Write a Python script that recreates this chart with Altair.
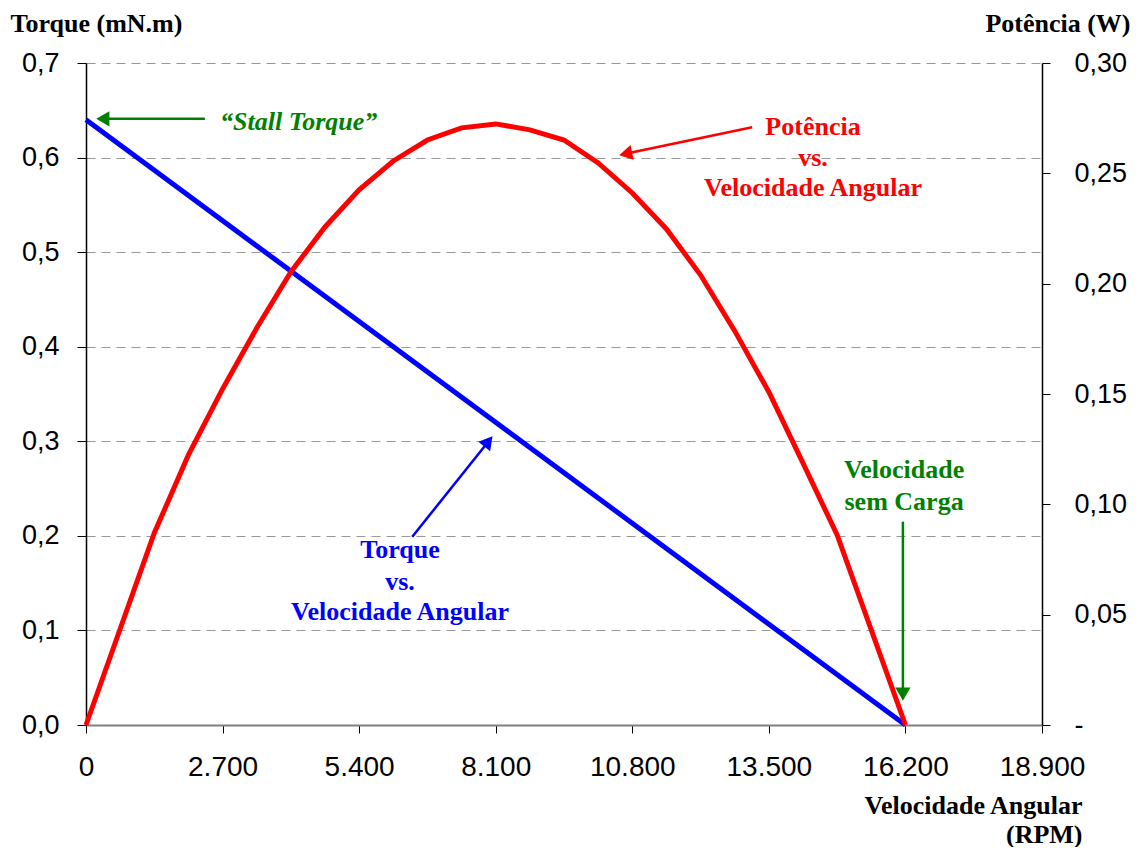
import altair as alt
import pandas as pd

# ---- data ----
torque_rpm = [0, 16200]
torque_val = [0.64, 0.0]

power_rpm = [0, 1350, 2025, 2700, 3375, 4050, 4725, 5400, 6075, 6750, 7425, 8100,
             8775, 9450, 10125, 10800, 11475, 12150, 12825, 13500, 14175, 14850, 16200]
power_val = [0.0, 0.0870, 0.1224, 0.1523, 0.1799, 0.2053, 0.2257, 0.2425, 0.2556, 0.2651,
             0.2706, 0.2724, 0.2697, 0.2651, 0.2547, 0.2411, 0.2248, 0.2039, 0.1786, 0.1509,
             0.1187, 0.0861, 0.0]

x_ticks = [0, 2700, 5400, 8100, 10800, 13500, 16200, 18900]
left_ticks = [0, 0.1, 0.2, 0.3, 0.4, 0.5, 0.6, 0.7]
right_ticks = [0, 0.05, 0.10, 0.15, 0.20, 0.25, 0.30]

# annotations (in RPM / torque units)
arrow_x = [2350, 13170, 6450, 16150]
arrow_y = [0.641, 0.632, 0.199, 0.215]
arrow_x2 = [376, 10711, 7928, 16150]
arrow_y2 = [0.641, 0.6045, 0.298, 0.0349]
arrow_angle = [270, 258, 39, 180]
arrow_color = ["#008000", "#FF0000", "#0000FF", "#008000"]

label_text = ["Potência", "vs.", "Velocidade Angular",
              "Torque", "vs.", "Velocidade Angular",
              "Velocidade", "sem Carga"]
label_x = [14373, 14373, 14373, 6208, 6208, 6208, 16173, 16173]
label_y = [0.632, 0.5995, 0.568, 0.185, 0.151, 0.1195, 0.2696, 0.2358]
label_color = ["#FF0000"] * 3 + ["#0000FF"] * 3 + ["#008000"] * 2

stall_text = ["\u201cStall Torque\u201d"]
stall_x = [2650]
stall_y = [0.6376]

torque_df = pd.DataFrame({"rpm": torque_rpm, "v": torque_val})
power_df = pd.DataFrame({"rpm": power_rpm, "v": power_val})
arrow_df = pd.DataFrame({"x": arrow_x, "y": arrow_y, "x2": arrow_x2, "y2": arrow_y2,
                         "angle": arrow_angle, "color": arrow_color})
label_df = pd.DataFrame({"t": label_text, "x": label_x, "y": label_y, "color": label_color})
stall_df = pd.DataFrame({"t": stall_text, "x": stall_x, "y": stall_y})

XDOM = [0, 18900]
YDOM = [0, 0.7]
PDOM = [0, 0.30]

serif = "Liberation Serif"
sans = "Liberation Sans"

x_axis = alt.Axis(
    values=x_ticks, labelExpr="replace(format(datum.value, ',d'), ',', '.')",
    labelFont=sans, labelFontSize=28, labelColor="black", labelPadding=20,
    labelBaseline="top", labelFlush=False, labelOverlap=False,
    domainColor="#808080", domainWidth=2, tickColor="black", tickSize=8, tickWidth=1,
    grid=False,
    title=["Velocidade Angular", "(RPM)"], titleFont=serif, titleFontSize=26,
    titleFontWeight="bold", titleColor="black", titleAlign="right", titleAnchor=None,
    titleX=996, titleY=88, titleBaseline="alphabetic", titleLineHeight=29,
)

y_axis = alt.Axis(
    values=left_ticks, labelExpr="replace(format(datum.value, '.1f'), '.', ',')",
    labelFont=sans, labelFontSize=27, labelColor="black", labelPadding=18,
    domainColor="black", domainWidth=1.5, tickColor="black", tickSize=9, tickWidth=1,
    grid=True, gridDash=[9, 6], gridColor="#999999", gridWidth=1,
    title="Torque (mN.m)", titleFont=serif, titleFontSize=26, titleFontWeight="bold",
    titleColor="black", titleAngle=0, titleAlign="left", titleBaseline="alphabetic",
    titleX=-76, titleY=-32,
)

p_axis = alt.Axis(
    values=right_ticks, orient="right",
    labelExpr="datum.value == 0 ? '-' : replace(format(datum.value, '.2f'), '.', ',')",
    labelFont=sans, labelFontSize=27, labelColor="black", labelPadding=24,
    domainColor="black", domainWidth=1.5, tickColor="black", tickSize=8, tickWidth=1,
    grid=False,
    title="Potência (W)", titleFont=serif, titleFontSize=26, titleFontWeight="bold",
    titleColor="black", titleAngle=0, titleAlign="right", titleBaseline="alphabetic",
    titleX=88, titleY=-32,
)

xs = alt.Scale(domain=XDOM, nice=False, zero=False)
ys = alt.Scale(domain=YDOM, nice=False)
ps = alt.Scale(domain=PDOM, nice=False)


def X(field):
    return alt.X(field, type="quantitative", scale=xs, axis=x_axis)


def Y(field):
    return alt.Y(field, type="quantitative", scale=ys, axis=y_axis)


torque_line = alt.Chart(torque_df).mark_line(color="#0000FF", strokeWidth=5).encode(
    x=X("rpm"), y=Y("v"),
)

arrows = alt.Chart(arrow_df).mark_rule(strokeWidth=2.5).encode(
    x=X("x"), y=Y("y"), x2="x2:Q", y2="y2:Q", color=alt.Color("color:N", scale=None),
)

heads = alt.Chart(arrow_df).mark_point(shape="triangle", filled=True, size=230, opacity=1).encode(
    x=X("x2"), y=Y("y2"),
    angle=alt.Angle("angle:Q", scale=None), color=alt.Color("color:N", scale=None),
)

labels = alt.Chart(label_df).mark_text(font=serif, fontSize=26, fontWeight="bold",
                                        align="center", baseline="middle").encode(
    x=X("x"), y=Y("y"), text="t:N", color=alt.Color("color:N", scale=None),
)

stall = alt.Chart(stall_df).mark_text(font=serif, fontSize=26, fontWeight="bold",
                                       fontStyle="italic", align="left", baseline="middle",
                                       color="#008000").encode(
    x=X("x"), y=Y("y"), text="t:N",
)

left = alt.layer(torque_line, arrows, heads, labels, stall)

power_line = alt.Chart(power_df).mark_line(color="#FF0000", strokeWidth=5).encode(
    x=X("rpm"),
    y=alt.Y("v:Q", scale=ps, axis=p_axis),
)

chart = alt.layer(left, power_line).resolve_scale(y="independent").properties(
    width=956, height=662,
    autosize=alt.AutoSizeParams(type="none"),
    padding={"left": 78, "top": 55, "right": 89, "bottom": 122},
    background="white",
).configure_view(stroke=None)

chart.save("out.html", embed_options={"renderer": "svg", "actions": False})
